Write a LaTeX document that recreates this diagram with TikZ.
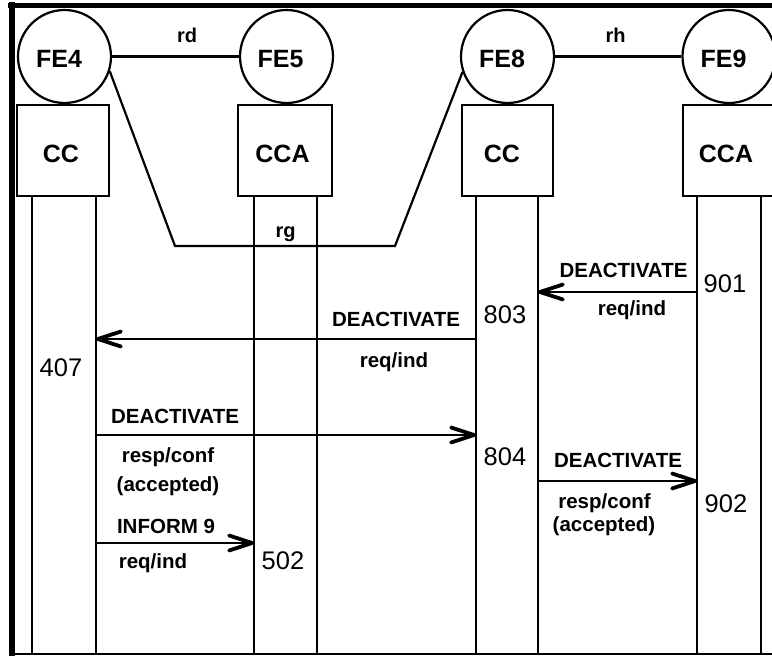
\documentclass[tikz,border=0pt]{standalone}
\usepackage{fontspec}
\setmainfont{Liberation Sans}
\usetikzlibrary{arrows.meta}
\begin{document}
\begin{tikzpicture}[x=1pt,y=-1pt,
  fe/.style={circle, draw, line width=2.2pt, minimum size=93pt, inner sep=0pt},
  bx/.style={rectangle, draw, line width=2.2pt, minimum width=92pt, minimum height=91pt, inner sep=0pt},
  big/.style={anchor=base, inner sep=0pt, font=\fontsize{25}{30}\selectfont\bfseries},
  life/.style={line width=2.5pt},
  link/.style={line width=2.2pt},
  msg/.style={line width=2.4pt, -{Straight Barb[length=23pt,width=15pt,line width=3.8pt,round]}},
  lbl/.style={anchor=base, inner sep=0pt, font=\fontsize{20.5}{24}\selectfont\bfseries},
  num/.style={anchor=base, inner sep=0pt, font=\fontsize{25.5}{30}\selectfont},
  lname/.style={anchor=base, inner sep=0pt, font=\fontsize{20}{24}\selectfont\bfseries},
]
\useasboundingbox (0,0) rectangle (772,656);
% frame
\draw[line width=5pt] (8,5) -- (772,5);
\draw[line width=6pt] (12,2) -- (12,656);
\draw[line width=1.4pt] (9,654) -- (772,654);

% functional entities
\node[fe] (FE4) at (64.5,56.5) {};
\node[fe] (FE5) at (286.5,56.5) {};
\node[fe] (FE8) at (507.5,56.5) {};
\node[fe] (FE9) at (729,56.5) {};
\node[big] (FE4t) at (59,67.5) {FE4};
\node[big] (FE5t) at (280.5,67.5) {FE5};
\node[big] (FE8t) at (502,67.5) {FE8};
\node[big] (FE9t) at (723.5,67.5) {FE9};

\node[bx] (CC4) at (63,150.5) {};
\node[bx, minimum width=94pt] (CCA5) at (285,150.5) {};
\node[bx, minimum width=91pt] (CC8) at (507.5,150.5) {};
\node[bx] (CCA9) at (729,150.5) {};
\node[big] (CC4t) at (61,162) {CC};
\node[big] (CCA5t) at (282.5,162) {CCA};
\node[big] (CC8t) at (502,162) {CC};
\node[big] (CCA9t) at (726,162) {CCA};

% relationships
\draw[link] (FE4.east) -- (FE5.west);
\node[lname] (rd) at (187,42) {rd};
\draw[link] (FE8.east) -- (FE9.west);
\node[lname] (rh) at (615.5,42) {rh};
\coordinate (rg1) at (175,246);
\coordinate (rg2) at (395,246);
\draw[link] (FE4.-18) -- (rg1) -- (rg2) -- (FE8.199);
\node[lname] (rg) at (285.5,237) {rg};

% lifelines
\foreach \x/\n in {32/a,96/b,254/c,317/d,476/e,538/f,697/g,761/h}{
  \coordinate (top\n) at (\x,196);
  \coordinate (bot\n) at (\x,653);
  \draw[life] (top\n) -- (bot\n);
}

% message 1: 901 -> 803
\coordinate (m1s) at (697,292);
\coordinate (m1e) at (538,292);
\draw[msg] (m1s) -- (m1e);
\node[lbl] (m1t) at (623.5,277) {DEACTIVATE};
\node[lbl] (m1b) at (632,315) {req/ind};
\node[num] (n901) at (725,292) {901};

% message 2: 803 -> 407
\coordinate (m2s) at (476,339);
\coordinate (m2e) at (96,339);
\draw[msg] (m2s) -- (m2e);
\node[lbl] (m2t) at (396,326) {DEACTIVATE};
\node[lbl] (m2b) at (394,367) {req/ind};
\node[num] (n803) at (505,323) {803};
\node[num] (n407) at (61,376) {407};

% message 3: 407 -> 804
\coordinate (m3s) at (96,435);
\coordinate (m3e) at (476,435);
\draw[msg] (m3s) -- (m3e);
\node[lbl] (m3t) at (175,423) {DEACTIVATE};
\node[lbl] (m3b) at (168,462) {resp/conf};
\node[lbl] (m3c) at (168,491) {(accepted)};
\node[num] (n804) at (505,465) {804};

% message 4: 804 -> 902
\coordinate (m4s) at (538,481);
\coordinate (m4e) at (697,481);
\draw[msg] (m4s) -- (m4e);
\node[lbl] (m4t) at (618,467) {DEACTIVATE};
\node[lbl] (m4b) at (604.5,508) {resp/conf};
\node[lbl] (m4c) at (604,531) {(accepted)};
\node[num] (n902) at (726,512) {902};

% message 5: inform 9
\coordinate (m5s) at (96,543);
\coordinate (m5e) at (254,543);
\draw[msg] (m5s) -- (m5e);
\node[lbl] (m5t) at (166,533) {INFORM 9};
\node[lbl] (m5b) at (153,568) {req/ind};
\node[num] (n502) at (283,569) {502};
\end{tikzpicture}
\end{document}
